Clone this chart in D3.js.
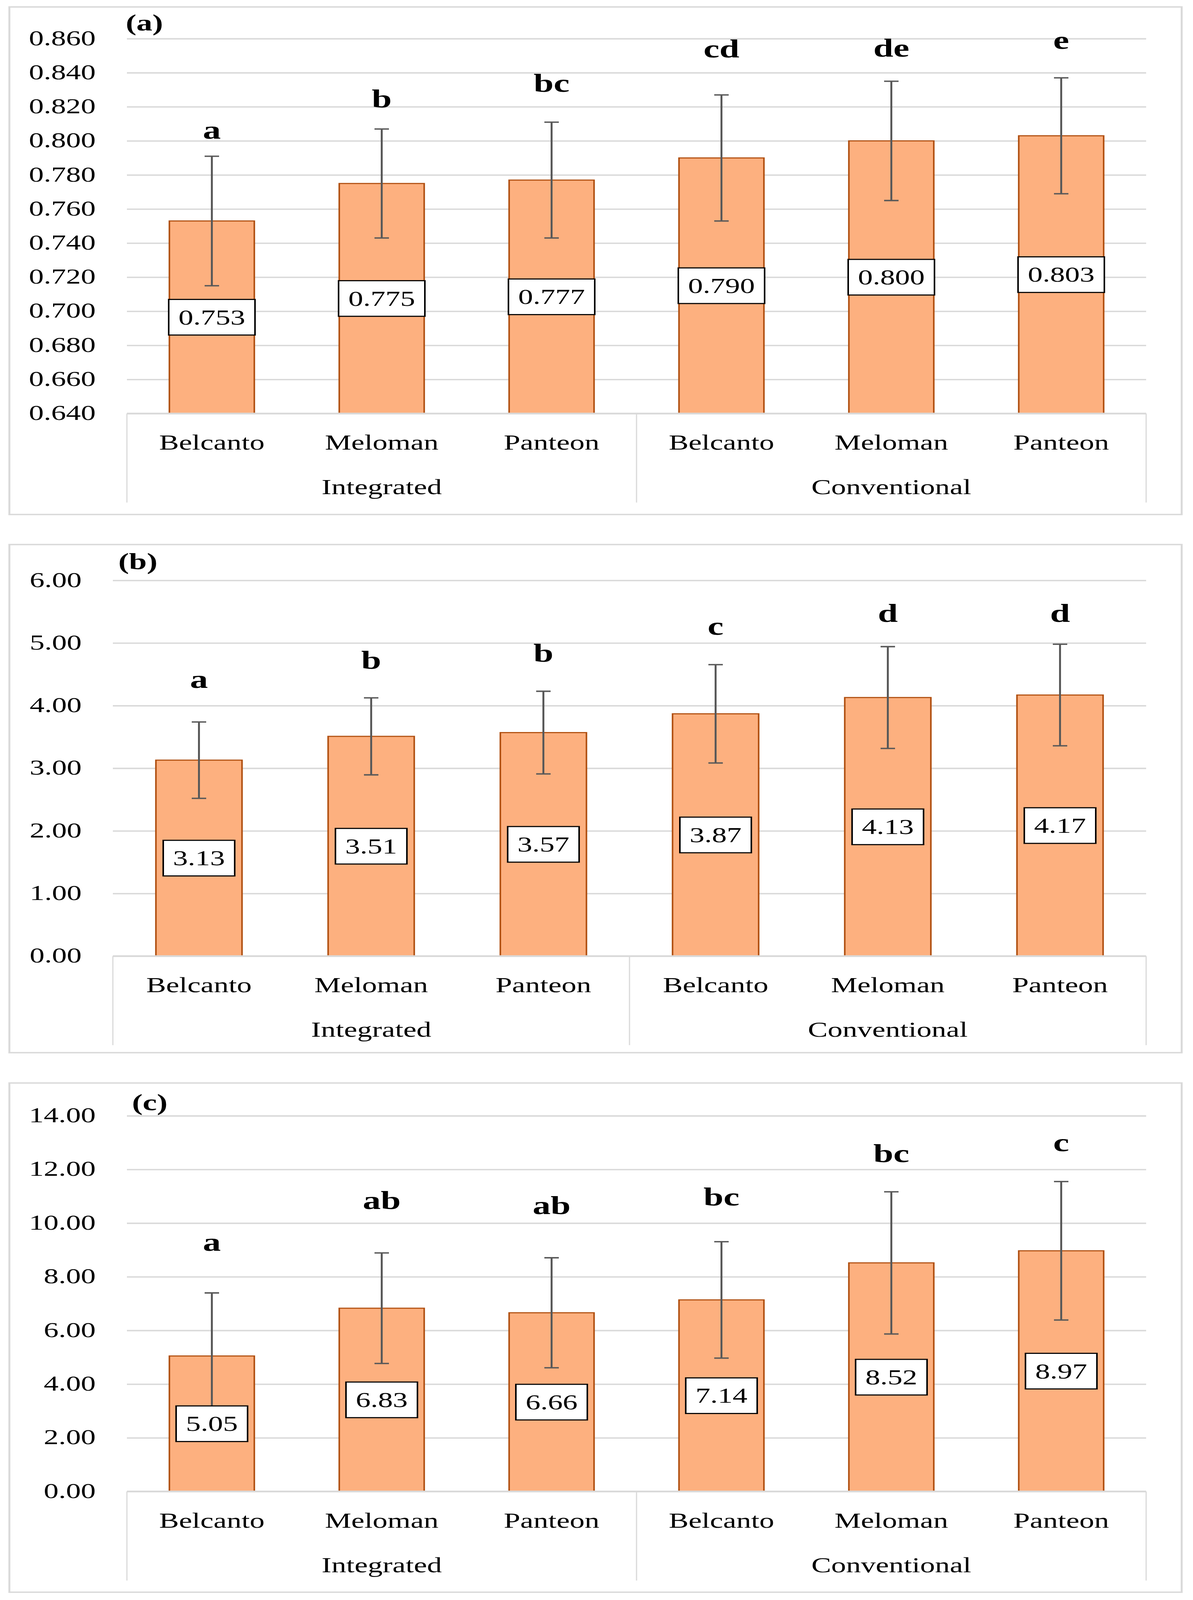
<!DOCTYPE html>
<html>
<head>
<meta charset="utf-8">
<script src="https://cdn.jsdelivr.net/npm/d3@7"></script>
<style>
  html, body { margin: 0; padding: 0; background: #ffffff; width: 100%; height: 100%; overflow: hidden; }
  svg { display: block; width: 100vw; height: 100vh; }
  text { font-family: "Liberation Serif", "Times New Roman", serif; }
</style>
</head>
<body>
<script>
// ---------------- DATA ----------------
const categories = ["Belcanto", "Meloman", "Panteon", "Belcanto", "Meloman", "Panteon"];
const groups = ["Integrated", "Conventional"];

// Panel (a)
const meansA   = [0.753, 0.775, 0.777, 0.790, 0.800, 0.803];
const errA     = [0.038, 0.032, 0.034, 0.037, 0.035, 0.034];
const lettersA = ["a", "b", "bc", "cd", "de", "e"];
const ticksA   = [0.640, 0.660, 0.680, 0.700, 0.720, 0.740, 0.760, 0.780, 0.800, 0.820, 0.840, 0.860];

// Panel (b)
const meansB   = [3.13, 3.51, 3.57, 3.87, 4.13, 4.17];
const errB     = [0.61, 0.615, 0.66, 0.785, 0.813, 0.811];
const lettersB = ["a", "b", "b", "c", "d", "d"];
const ticksB   = [0, 1, 2, 3, 4, 5, 6];

// Panel (c)
const meansC   = [5.05, 6.83, 6.66, 7.14, 8.52, 8.97];
const errC     = [2.35, 2.06, 2.05, 2.17, 2.65, 2.58];
const lettersC = ["a", "ab", "ab", "bc", "bc", "c"];
const ticksC   = [0, 2, 4, 6, 8, 10, 12, 14];

// ---------------- LAYOUT ----------------
const W = 3055, H = 5750;
const panels = [
  { title: "(a)", means: meansA, errs: errA, letters: lettersA, ticks: ticksA, fmt: d3.format(".3f"), valFmt: d3.format(".3f"),
    frameTop: 25, frameBottom: 1849, left: 325, right: 2935, top: 139, bottom: 1486, titleX: 322, titleY: 109,
    letterGaps: [63, 77, 109, 135, 89, 104] },
  { title: "(b)", means: meansB, errs: errB, letters: lettersB, ticks: ticksB, fmt: d3.format(".2f"), valFmt: d3.format(".2f"),
    frameTop: 1957, frameBottom: 3783, left: 289, right: 2935, top: 2086, bottom: 3436, titleX: 303, titleY: 2046,
    letterGaps: [123, 104, 106, 108, 89, 80] },
  { title: "(c)", means: meansC, errs: errC, letters: lettersC, ticks: ticksC, fmt: d3.format(".2f"), valFmt: d3.format(".2f"),
    frameTop: 3892, frameBottom: 5722, left: 325, right: 2935, top: 4010, bottom: 5360, titleX: 338, titleY: 3990,
    letterGaps: [152, 158, 157, 130, 107, 109] }
];

const frameLeft = 24, frameRight = 3026;
const gridColor = "#d9d9d9";
const barFill = "#fdb07f";
const barStroke = "#b04f10";
const errColor = "#595959";

// The drawing is laid out in a 3055x5750 coordinate space and fills the window.
const svg = d3.select("body").append("svg")
  .attr("viewBox", `0 0 ${W} ${H}`)
  .attr("preserveAspectRatio", "none");

svg.append("rect").attr("width", W).attr("height", H).attr("fill", "#ffffff");

panels.forEach(p => {
  const g = svg.append("g");

  // frame
  g.append("rect")
    .attr("x", frameLeft).attr("y", p.frameTop)
    .attr("width", frameRight - frameLeft).attr("height", p.frameBottom - p.frameTop)
    .attr("fill", "#ffffff").attr("stroke", gridColor).attr("stroke-width", 5);

  const y = d3.scaleLinear()
    .domain([p.ticks[0], p.ticks[p.ticks.length - 1]])
    .range([p.bottom, p.top]);

  const x = d3.scaleBand()
    .domain(d3.range(categories.length))
    .range([p.left, p.right])
    .paddingInner(0.5)
    .paddingOuter(0.25);

  // gridlines + y tick labels
  const yAxis = d3.axisLeft(y)
    .tickValues(p.ticks)
    .tickFormat(p.fmt)
    .tickSize(-(p.right - p.left))
    .tickPadding(80);

  const ag = g.append("g")
    .attr("transform", `translate(${p.left},0)`)
    .call(yAxis);
  ag.select(".domain").remove();
  ag.selectAll(".tick line")
    .attr("stroke", gridColor).attr("stroke-width", 5);
  ag.selectAll(".tick text")
    .attr("fill", "#000000")
    .attr("font-family", "'Liberation Serif', 'Times New Roman', serif")
    .attr("font-size", 76)
    .attr("dy", "0.3em");

  // category box lines (below axis)
  const boxDepth = 320;
  const sepX = [p.left, x(3) - x.step() * x.paddingInner() / 2, p.right];
  g.selectAll(".sep").data(sepX).enter().append("line")
    .attr("x1", d => d).attr("x2", d => d)
    .attr("y1", p.bottom).attr("y2", p.bottom + boxDepth)
    .attr("stroke", gridColor).attr("stroke-width", 3);

  // bars
  g.selectAll(".bar").data(p.means).enter().append("rect")
    .attr("x", (d, i) => x(i))
    .attr("y", d => y(d))
    .attr("width", x.bandwidth())
    .attr("height", d => y(p.ticks[0]) - y(d))
    .attr("fill", barFill)
    .attr("stroke", barStroke)
    .attr("stroke-width", 4);

  // axis baseline over bar bottoms
  g.append("line")
    .attr("x1", p.left).attr("x2", p.right)
    .attr("y1", p.bottom).attr("y2", p.bottom)
    .attr("stroke", gridColor).attr("stroke-width", 6);

  // error bars
  const capW = 37;
  p.means.forEach((m, i) => {
    const cx = x(i) + x.bandwidth() / 2;
    const e = p.errs[i];
    const eg = g.append("g").attr("stroke", errColor).attr("stroke-width", 5);
    eg.append("line").attr("x1", cx).attr("x2", cx).attr("y1", y(m + e)).attr("y2", y(m - e));
    eg.append("line").attr("x1", cx - capW / 2).attr("x2", cx + capW / 2).attr("y1", y(m + e)).attr("y2", y(m + e));
    eg.append("line").attr("x1", cx - capW / 2).attr("x2", cx + capW / 2).attr("y1", y(m - e)).attr("y2", y(m - e));
  });

  // value label boxes (centered in bar)
  p.means.forEach((m, i) => {
    const cx = x(i) + x.bandwidth() / 2;
    const cy = (y(m) + y(p.ticks[0])) / 2;
    const lg = g.append("g");
    const rect = lg.append("rect");
    const t = lg.append("text")
      .attr("x", cx).attr("y", cy)
      .attr("dy", "0.34em")
      .attr("text-anchor", "middle")
      .attr("font-size", 76)
      .attr("fill", "#000000")
      .text(p.valFmt(m));
    const tw = t.node().getComputedTextLength();
    const bw = tw + 50, bh = 128;
    rect.attr("x", cx - bw / 2).attr("y", cy - bh / 2)
      .attr("width", bw).attr("height", bh)
      .attr("fill", "#ffffff").attr("stroke", "#000000").attr("stroke-width", 4);
  });

  // significance letters
  g.selectAll(".letter").data(p.letters).enter().append("text")
    .attr("x", (d, i) => x(i) + x.bandwidth() / 2)
    .attr("y", (d, i) => y(p.means[i] + p.errs[i]) - p.letterGaps[i])
    .attr("text-anchor", "middle")
    .attr("font-size", 92)
    .attr("font-weight", "bold")
    .attr("fill", "#000000")
    .text(d => d);

  // category labels
  g.selectAll(".cat").data(categories).enter().append("text")
    .attr("x", (d, i) => x(i) + x.bandwidth() / 2)
    .attr("y", p.bottom + 130)
    .attr("text-anchor", "middle")
    .attr("font-size", 76)
    .attr("fill", "#000000")
    .text(d => d);

  // group labels
  g.selectAll(".grp").data(groups).enter().append("text")
    .attr("x", (d, gi) => (x(gi * 3 + 1) + x.bandwidth() / 2))
    .attr("y", p.bottom + 290)
    .attr("text-anchor", "middle")
    .attr("font-size", 76)
    .attr("fill", "#000000")
    .text(d => d);

  // panel title
  g.append("text")
    .attr("x", p.titleX).attr("y", p.titleY)
    .attr("font-size", 82)
    .attr("font-weight", "bold")
    .attr("fill", "#000000")
    .text(p.title);
});
</script>
</body>
</html>
